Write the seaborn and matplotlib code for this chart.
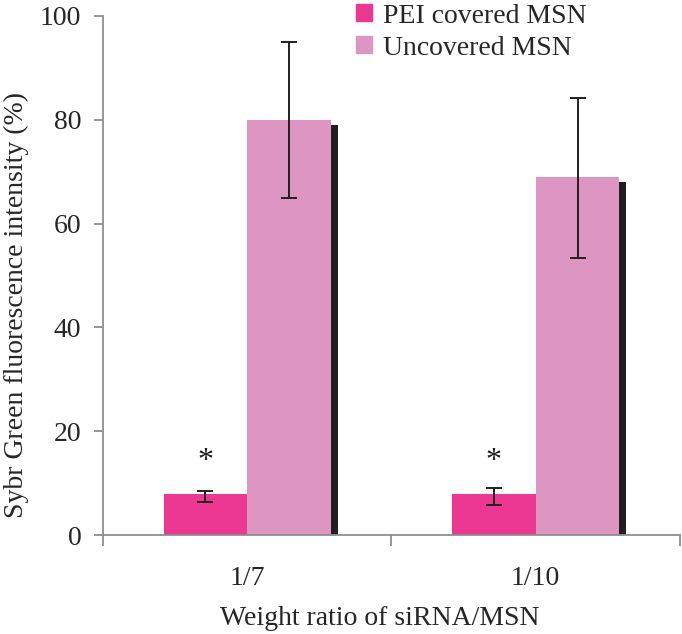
import numpy as np
import pandas as pd
import matplotlib
matplotlib.use('Agg')
import matplotlib.pyplot as plt
import matplotlib.transforms as mtransforms
from matplotlib.patches import Rectangle
import seaborn as sns

ratios = ['1/7', '1/10']
coatings = ['PEI covered MSN', 'Uncovered MSN']
pei_values = [7.9, 7.9]
uncovered_values = [80.0, 69.0]
pei_err_low = [1.6, 2.1]
pei_err_high = [0.6, 1.1]
uncovered_err_low = [15.0, 15.7]
uncovered_err_high = [15.0, 15.2]
star_y = [14.2, 14.2]

df = pd.DataFrame({
    'ratio': ratios * 2,
    'coating': [coatings[0]] * 2 + [coatings[1]] * 2,
    'value': pei_values + uncovered_values,
})

sns.set_style('white')
plt.rcParams['font.family'] = ['Liberation Serif', 'DejaVu Serif']

fig = plt.figure(figsize=(6.82, 6.34), dpi=100)
ax = fig.add_axes([0.151, 0.156, 0.846, 0.819])

palette = {coatings[0]: '#ec3893', coatings[1]: '#dd96c2'}
sns.barplot(data=df, x='ratio', y='value', hue='coating', order=ratios,
            hue_order=coatings, palette=palette, width=0.58, saturation=1,
            errorbar=None, ax=ax, legend=False, zorder=2, linewidth=0)

# dark drop shadow behind every bar (shifted right and down a few points)
shift = ax.transData + mtransforms.ScaledTranslation(5.0 / 72, -3.6 / 72,
                                                     fig.dpi_scale_trans)
for cont in ax.containers:
    for bar in cont:
        sh = Rectangle((bar.get_x(), bar.get_y()), bar.get_width(),
                       bar.get_height(), facecolor='#231f20',
                       edgecolor='none', zorder=1.5, transform=shift)
        ax.add_patch(sh)

errs = [(pei_err_low, pei_err_high), (uncovered_err_low, uncovered_err_high)]
vals = [pei_values, uncovered_values]
for cont, (lo, hi), v in zip(ax.containers, errs, vals):
    xs = [b.get_x() + b.get_width() / 2 for b in cont]
    ax.errorbar(xs, v, yerr=[lo, hi], fmt='none', ecolor='#231f20',
                elinewidth=1.4, capsize=6, capthick=1.4, zorder=3)

pei_x = [b.get_x() + b.get_width() / 2 for b in ax.containers[0]]
for x, y in zip(pei_x, star_y):
    ax.text(x, y, '*', ha='center', va='center', fontsize=23, color='#231f20')

ax.set_ylim(0, 100)
ax.set_xlim(-0.5, 1.5)
ax.set_yticks([0, 20, 40, 60, 80, 100])
ax.set_xticks([-0.5, 0.5, 1.5], minor=True)

gray = '#8f8f8f'
for s in ['top', 'right']:
    ax.spines[s].set_visible(False)
for s in ['left', 'bottom']:
    ax.spines[s].set_color(gray)
    ax.spines[s].set_linewidth(1.3)

ax.tick_params(axis='y', which='major', direction='out', length=6.5, width=1.3,
               color=gray, labelsize=20, pad=9, left=True)
ax.tick_params(axis='x', which='major', length=0, labelsize=20, pad=22)
ax.tick_params(axis='x', which='minor', direction='out', length=8, width=1.3,
               color=gray, bottom=True)

ax.set_xlabel('Weight ratio of siRNA/MSN', fontsize=20)
ax.xaxis.set_label_coords(0.48, -0.137)
ax.set_ylabel('Sybr Green fluorescence intensity (%)', fontsize=20)
ax.yaxis.set_label_coords(-0.128, 0.443)

handles = [plt.Rectangle((0, 0), 1, 1, color=palette[c]) for c in coatings]
ax.legend(handles, coatings, loc='upper left', bbox_to_anchor=(0.42, 1.045),
          frameon=False, fontsize=20, handlelength=0.55, handleheight=0.55,
          handletextpad=0.4, labelspacing=0.25, borderaxespad=0)

fig.savefig('out.png', dpi=100)
